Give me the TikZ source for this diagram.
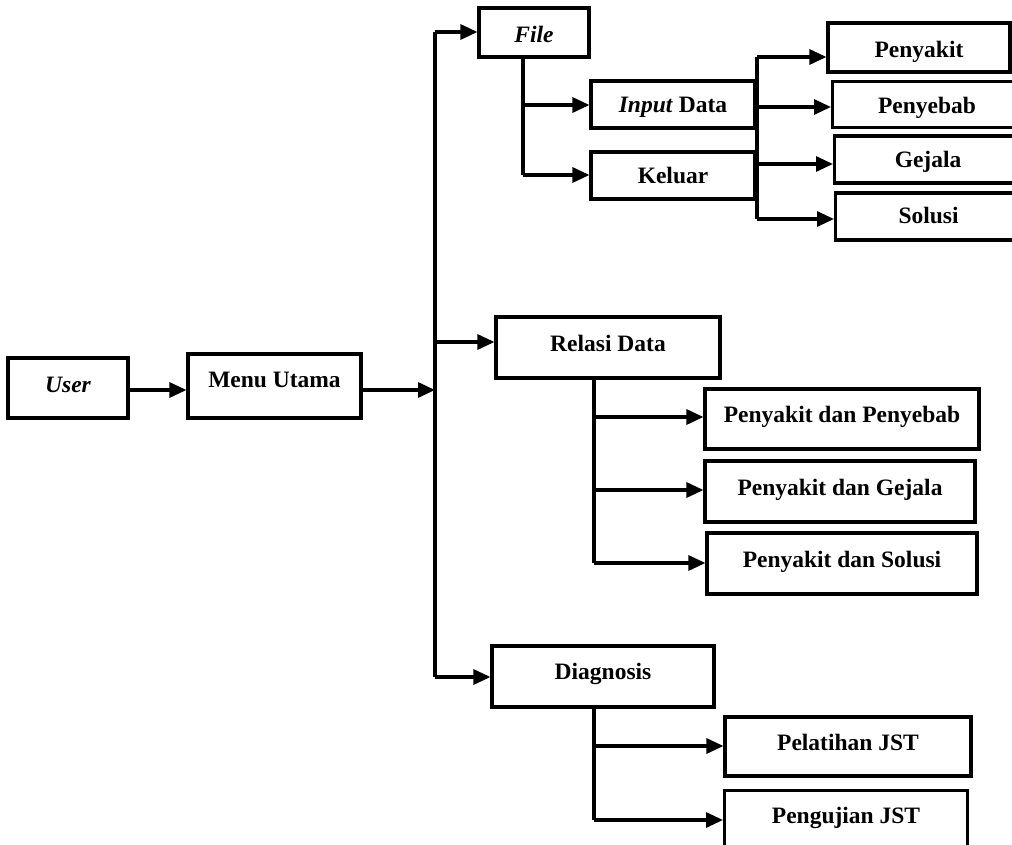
\documentclass[tikz,border=0pt]{standalone}
\usepackage{fontspec}
\setmainfont{Liberation Serif}
\usetikzlibrary{arrows.meta}
\tikzset{
  box/.style={draw=black, line width=3.1pt, inner sep=0pt, fill=white,
    text height=15.5pt, text depth=0pt,
    font=\fontsize{23.5}{27}\selectfont\bfseries},
  arr/.style={draw=black, line width=3.1pt, -{Triangle[length=17pt,width=15pt]}},
  ln/.style={draw=black, line width=3.1pt},
}
\begin{document}
\begin{tikzpicture}[x=1pt,y=-1pt]
\useasboundingbox (0,0) rectangle (1012,845);
\clip (0,0) rectangle (1012,845);
% main column
\node[box, minimum width=120pt, minimum height=60pt, text height=8.5pt] (user) at (68,388) {\itshape User};
\node[box, minimum width=173pt, minimum height=64pt, text height=3.5pt] (menu) at (274.5,386) {Menu Utama};
\node[box, minimum width=110pt, minimum height=49pt, text height=19.5pt] (file) at (534,32.5) {\itshape File};
\node[box, minimum width=224pt, minimum height=61pt, text height=7.5pt] (relasi) at (608,347.5) {Relasi Data};
\node[box, minimum width=222pt, minimum height=61pt, text height=5.5pt] (diag) at (603,676.5) {Diagnosis};
% file children
\node[box, minimum width=164pt, minimum height=47pt] (input) at (673,104.5) {\textit{Input} Data};
\node[box, minimum width=164pt, minimum height=47pt] (keluar) at (673,175.5) {Keluar};
\node[box, minimum width=182pt, minimum height=49pt, text height=20.5pt] (penyakit) at (919,47.5) {Penyakit};
\node[box, minimum width=189pt, minimum height=46pt, text height=17.5pt, anchor=west] (penyebab) at (831,104.5) {\makebox[181pt]{Penyebab}};
\node[box, minimum width=187pt, minimum height=47pt, anchor=west] (gejala) at (833,159.5) {\makebox[179pt]{Gejala}};
\node[box, minimum width=186pt, minimum height=47pt, text height=13.5pt, anchor=west] (solusi) at (834,216.5) {\makebox[178pt]{Solusi}};
% relasi children
\node[box, minimum width=274pt, minimum height=60pt, text height=7.5pt] (pdp) at (842,419) {Penyakit dan Penyebab};
\node[box, minimum width=270pt, minimum height=61pt, text height=7.5pt] (pdg) at (840,491.5) {Penyakit dan Gejala};
\node[box, minimum width=270pt, minimum height=61pt, text height=7.5pt] (pds) at (842,563.5) {Penyakit dan Solusi};
% diagnosis children
\node[box, minimum width=246pt, minimum height=59pt, text height=7.5pt] (pel) at (848,746.5) {Pelatihan JST};
\node[box, minimum width=243pt, minimum height=64pt, text height=2.5pt, anchor=north west] (peng) at (723,789) {Pengujian JST};
% coordinates
\coordinate (b0) at (435,32);
\coordinate (bm) at (435,390);
\coordinate (br) at (435,342);
\coordinate (bd) at (435,677);
\coordinate (ft) at (523,57);
\coordinate (fi) at (523,105);
\coordinate (fk) at (523,175);
\coordinate (r1) at (757,57);
\coordinate (r2) at (757,107);
\coordinate (r3) at (757,164);
\coordinate (r4) at (757,219);
\coordinate (s0) at (594,378);
\coordinate (s1) at (594,417);
\coordinate (s2) at (594,490);
\coordinate (s3) at (594,563);
\coordinate (d0) at (594,707);
\coordinate (d1) at (594,746);
\coordinate (d2) at (594,820);
% connectors
\draw[arr] (user.east |- bm) -- (menu.west |- bm);
\draw[arr] (menu.east |- bm) -- (bm);
\draw[ln] (b0) -- (bd);
\draw[arr] (b0) -- (file.west |- b0);
\draw[arr] (br) -- (relasi.west |- br);
\draw[arr] (bd) -- (diag.west |- bd);
\draw[ln] (ft) -- (fk);
\draw[arr] (fi) -- (input.west |- fi);
\draw[arr] (fk) -- (keluar.west |- fk);
\draw[ln] (r1) -- (r4);
\draw[arr] (r1) -- (penyakit.west |- r1);
\draw[arr] (r2) -- (penyebab.west |- r2);
\draw[arr] (r3) -- (gejala.west |- r3);
\draw[arr] (r4) -- (solusi.west |- r4);
\draw[ln] (s0) -- (s3);
\draw[arr] (s1) -- (pdp.west |- s1);
\draw[arr] (s2) -- (pdg.west |- s2);
\draw[arr] (s3) -- (pds.west |- s3);
\draw[ln] (d0) -- (d2);
\draw[arr] (d1) -- (pel.west |- d1);
\draw[arr] (d2) -- (peng.west |- d2);
\end{tikzpicture}
\end{document}
